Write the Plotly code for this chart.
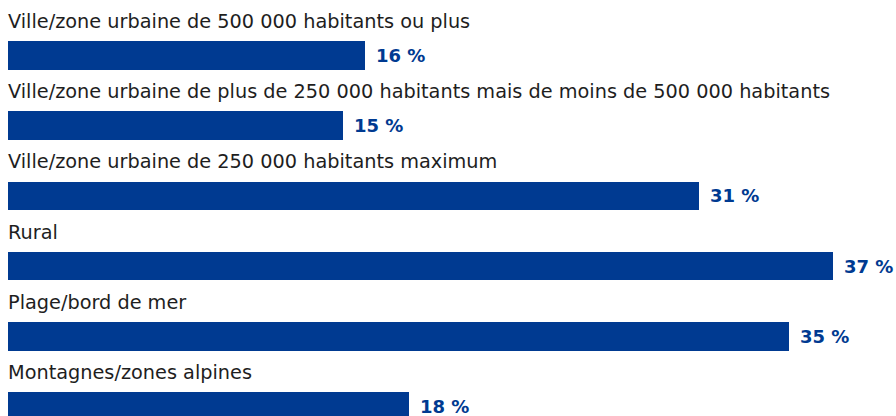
import plotly.graph_objects as go

# Survey shares by type of destination (%)
categories = [
    "Ville/zone urbaine de 500 000 habitants ou plus",
    "Ville/zone urbaine de plus de 250 000 habitants mais de moins de 500 000 habitants",
    "Ville/zone urbaine de 250 000 habitants maximum",
    "Rural",
    "Plage/bord de mer",
    "Montagnes/zones alpines",
]
values = [16, 15, 31, 37, 35, 18]
value_labels = [f"{v}\u00a0%" for v in values]

BAR_COLOR = "#003a91"
TEXT_COLOR = "#1e1e1e"
FONT = "DejaVu Sans"

positions = list(range(len(categories)))

fig = go.Figure(
    go.Bar(
        x=values,
        y=positions,
        orientation="h",
        width=0.405,
        marker=dict(color=BAR_COLOR, line=dict(width=0)),
        hoverinfo="skip",
    )
)

annotations = []
for i, (cat, v, lab) in enumerate(zip(categories, values, value_labels)):
    # category caption above each bar
    annotations.append(dict(
        x=0, y=i, xref="x", yref="y",
        text=cat, showarrow=False,
        xanchor="left", yanchor="middle",
        xshift=-2, yshift=34,
        font=dict(family=FONT, size=19.3, color=TEXT_COLOR),
    ))
    # value label right of the bar
    annotations.append(dict(
        x=v, y=i, xref="x", yref="y",
        text=f"<b>{lab}</b>", showarrow=False,
        xanchor="left", yanchor="middle",
        xshift=9, yshift=0,
        font=dict(family=FONT, size=18, color=BAR_COLOR),
    ))

fig.update_layout(
    width=896, height=416,
    margin=dict(l=8, r=0, t=0, b=0),
    paper_bgcolor="white", plot_bgcolor="white",
    showlegend=False,
    annotations=annotations,
    xaxis=dict(range=[0, 888 / 22.3], visible=False, fixedrange=True),
    yaxis=dict(range=[5.134, -0.787], visible=False, fixedrange=True),
    bargap=0,
)

fig.write_html("out.html")
